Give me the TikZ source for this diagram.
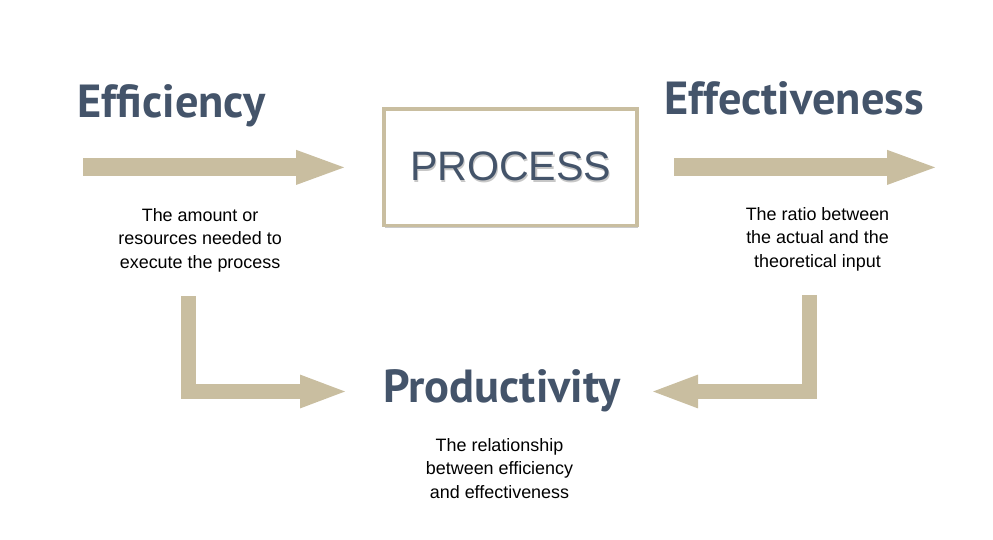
\documentclass[tikz,border=0pt]{standalone}
\usepackage{fontspec}
\setmainfont{Liberation Sans}
\newfontfamily\headfont{PT Sans}
\usepackage{tikz}
\usetikzlibrary{arrows.meta, shadows}
\usepackage{xcolor}
\definecolor{slate}{HTML}{44546A}
\definecolor{sand}{HTML}{C9BEA0}
\newcommand{\castshadow}[1]{\makebox[0pt][l]{\raisebox{-2.4pt}{\hspace{1.2pt}\textcolor{black!22}{#1}}}#1}

\begin{document}
\begin{tikzpicture}[
    headtext/.style = {font=\headfont\bfseries\fontsize{44}{50}\selectfont, text=slate, inner sep=0pt, anchor=base},
    desctext/.style = {font=\fontsize{17}{22.3}\selectfont, align=center, inner sep=0pt, anchor=north},
    procbox/.style = {rectangle, draw=sand, line width=0.13cm, fill=white, minimum width=8.43cm, minimum height=3.87cm, font=\fontsize{39}{44}\selectfont, text=slate, drop shadow={shadow xshift=0.03cm, shadow yshift=-0.07cm, opacity=0.35, fill=black!60}},
    flatarrow/.style = {draw=sand, line width=0.6cm, -{Triangle[width=1.17cm, length=1.6cm, line width=0pt]}},
    bentarrow/.style = {draw=sand, line width=0.5cm, -{Triangle[width=1.13cm, length=1.5cm, line width=0pt]}}
]
\useasboundingbox (0, 0) rectangle (33.1, -17.967);

% Headings
\node (effic) [headtext] at (5.72, -3.9) {Efficiency};
\node (effect) [headtext] at (26.47, -3.8) {Effectiveness};
\node (prod) [headtext] at (16.73, -13.43) {Productivity};

% Process box in the middle
\node (process) [procbox] at (17.02, -5.58) {\castshadow{PROCESS}};

% Descriptions
\node (effic_txt) [desctext] at (6.67, -6.93) {The amount or\\resources needed to\\execute the process};
\node (effect_txt) [desctext] at (27.25, -6.9) {The ratio between\\the actual and the\\theoretical input};
\node (prod_txt) [desctext] at (16.65, -14.6) {The relationship\\between efficiency\\and effectiveness};

% Free ends of the arrows
\coordinate (in) at (2.77, -5.58);
\coordinate (out) at (31.17, -5.58);
\coordinate (effic_bend) at (6.28, -9.87);
\coordinate (effect_bend) at (26.98, -9.83);

% Arrows
\draw [flatarrow] (in) -- ([xshift=-1.27cm]process.west);
\draw [flatarrow] ([xshift=1.17cm]process.east) -- (out);
\draw [bentarrow] (effic_bend) |- ([shift={(-5.23, 0.38)}]prod.base);
\draw [bentarrow] (effect_bend) |- ([shift={(5.04, 0.38)}]prod.base);

\end{tikzpicture}
\end{document}
